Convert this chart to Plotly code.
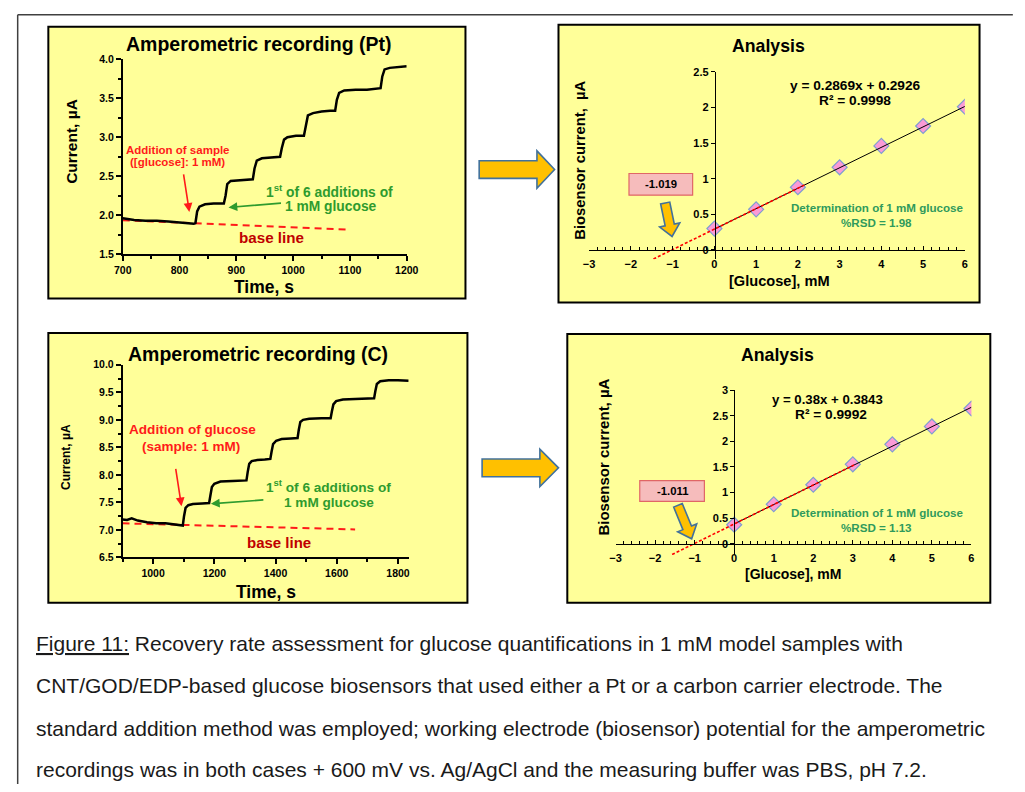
import plotly.graph_objects as go

# ---------------- data ----------------
# Amperometric recording (Pt)
pt_time = [700, 720, 740, 760, 780, 800, 815, 825, 828, 831, 835, 845, 860, 878, 881, 884, 890, 905, 920, 929,
           932, 936, 945, 960, 977, 980, 984, 990, 1005, 1019, 1022, 1026, 1035, 1050, 1065, 1074, 1077, 1081,
           1090, 1110, 1130, 1154, 1157, 1161, 1170, 1185, 1200]
pt_current = [1.96, 1.94, 1.93, 1.93, 1.92, 1.91, 1.90, 1.89, 1.90, 2.05, 2.11, 2.14, 2.15, 2.15, 2.25, 2.40,
              2.44, 2.45, 2.46, 2.46, 2.60, 2.70, 2.73, 2.74, 2.75, 2.86, 2.97, 3.00, 3.02, 3.02, 3.15, 3.28,
              3.31, 3.33, 3.34, 3.34, 3.48, 3.57, 3.60, 3.61, 3.61, 3.63, 3.78, 3.87, 3.89, 3.90, 3.91]
pt_base_time = [700, 1095]
pt_base_current = [1.935, 1.815]

# Amperometric recording (C)
c_time = [900, 915, 930, 950, 980, 1010, 1040, 1070, 1090, 1097, 1101, 1106, 1115, 1130, 1160, 1183, 1187, 1192,
          1200, 1220, 1260, 1305, 1309, 1314, 1322, 1340, 1365, 1383, 1387, 1392, 1402, 1420, 1450, 1472, 1476,
          1481, 1490, 1510, 1550, 1580, 1584, 1589, 1598, 1620, 1660, 1700, 1722, 1726, 1731, 1742, 1770, 1800,
          1835]
c_current = [7.19, 7.18, 7.21, 7.17, 7.14, 7.12, 7.12, 7.10, 7.09, 7.08, 7.25, 7.40, 7.45, 7.47, 7.48, 7.49, 7.62,
             7.78, 7.84, 7.88, 7.89, 7.90, 8.05, 8.20, 8.25, 8.27, 8.28, 8.29, 8.42, 8.56, 8.62, 8.65, 8.66, 8.67,
             8.82, 8.96, 9.00, 9.02, 9.03, 9.03, 9.15, 9.28, 9.34, 9.37, 9.38, 9.38, 9.39, 9.52, 9.65, 9.70, 9.72,
             9.72, 9.71]
c_base_time = [900, 1660]
c_base_current = [7.12, 7.01]

# Analysis (standard addition)
conc = [0, 1, 2, 3, 4, 5, 6]
pt_bio = [0.30, 0.57, 0.88, 1.16, 1.46, 1.74, 2.01]
c_bio = [0.37, 0.77, 1.15, 1.55, 1.94, 2.29, 2.64]
pt_slope, pt_intercept, pt_r2, pt_xint, pt_rsd = 0.2869, 0.2926, 0.9998, -1.019, 1.98
c_slope, c_intercept, c_r2, c_xint, c_rsd = 0.38, 0.3843, 0.9992, -1.011, 1.13
pt_extrap_x = [-1.46, 2.2]
c_extrap_x = [-1.57, 3.03]

pt_rec_xticks = [700, 800, 900, 1000, 1100, 1200]
pt_rec_yticks = [1.5, 2.0, 2.5, 3.0, 3.5, 4.0]
c_rec_xticks = [1000, 1200, 1400, 1600, 1800]
c_rec_yticks = [6.5, 7.0, 7.5, 8.0, 8.5, 9.0, 9.5, 10.0]
an_xticks = [-3, -2, -1, 0, 1, 2, 3, 4, 5, 6]
pt_an_yticks = [0, 0.5, 1, 1.5, 2, 2.5]
pt_an_ylabels = ["0", "0.5", "1", "1.5", "2", "2.5"]
c_an_yticks = [0, 0.5, 1, 1.5, 2, 2.5, 3]
c_an_ylabels = ["0", "0.5", "1", "1.5", "2", "2.5", "3"]

caption = [
    "<u>Figure 11:</u> Recovery rate assessment for glucose quantifications in 1 mM model samples with",
    "CNT/GOD/EDP-based glucose biosensors that used either a Pt or a carbon carrier electrode. The",
    "standard addition method was employed; working electrode (biosensor) potential for the amperometric",
    "recordings was in both cases + 600 mV vs. Ag/AgCl and the measuring buffer was PBS, pH 7.2.",
]

# ---------------- layout helpers ----------------
# the page keeps the browser's default 8px body margin, so the figure is drawn 8px in from the corner
PAGE_W, PAGE_H, OFF = 1025, 792, 8
W, H = PAGE_W - 2 * OFF, PAGE_H - 2 * OFF
FONT = "Liberation Sans"
YELLOW = "#ffff99"
RED = "#ff1a1a"
DARKRED = "#c00000"
GREEN = "#2e9b2e"
TEAL = "#2f9a5c"


def X(p):
    return (p - OFF) / W


def Y(p):
    return 1 - (p - OFF) / H


fig = go.Figure()
shapes = []
annotations = []


def ann(text, x, y, size, color="black", angle=0, xanchor="center", yanchor="middle", bold=True):
    annotations.append(dict(
        text=f"<b>{text}</b>" if bold else text, x=X(x), y=Y(y), xref="paper", yref="paper",
        showarrow=False, textangle=angle, xanchor=xanchor, yanchor=yanchor,
        font=dict(family=FONT, size=size, color=color)))


def line_arrow(tail, tip, color, width=1.6):
    annotations.append(dict(
        text="", x=X(tip[0]), y=Y(tip[1]), xref="paper", yref="paper",
        ax=tail[0] - tip[0], ay=tail[1] - tip[1], axref="pixel", ayref="pixel",
        showarrow=True, arrowhead=2, arrowsize=1.1, arrowwidth=width, arrowcolor=color, standoff=0))


def rect(x0, y0, x1, y1, fill, line_color="black", lw=2, layer="below"):
    shapes.append(dict(type="rect", xref="paper", yref="paper", x0=X(x0), x1=X(x1), y0=Y(y1), y1=Y(y0),
                       fillcolor=fill, line=dict(color=line_color, width=lw), layer=layer))


def block_arrow(tail, tip, sw, hw, hl, fill="#ffc000", outline="#41719c"):
    dx, dy = tip[0] - tail[0], tip[1] - tail[1]
    L = (dx * dx + dy * dy) ** 0.5
    ux, uy = dx / L, dy / L
    nx, ny = -uy, ux
    bx, by = tip[0] - ux * hl, tip[1] - uy * hl
    pts = [
        (tail[0] + nx * sw / 2, tail[1] + ny * sw / 2),
        (bx + nx * sw / 2, by + ny * sw / 2),
        (bx + nx * hw / 2, by + ny * hw / 2),
        tip,
        (bx - nx * hw / 2, by - ny * hw / 2),
        (bx - nx * sw / 2, by - ny * sw / 2),
        (tail[0] - nx * sw / 2, tail[1] - ny * sw / 2),
    ]
    path = "M" + " L".join(f"{X(p[0]):.5f},{Y(p[1]):.5f}" for p in pts) + " Z"
    shapes.append(dict(type="path", xref="paper", yref="paper", path=path, fillcolor=fill,
                       line=dict(color=outline, width=1.6), layer="above"))


# page frame
shapes.append(dict(type="line", xref="paper", yref="paper", x0=X(8.7), x1=X(1025), y0=Y(8.7), y1=Y(8.7),
                   line=dict(color="#404040", width=1.5)))
shapes.append(dict(type="line", xref="paper", yref="paper", x0=X(8.7), x1=X(8.7), y0=Y(8.7), y1=Y(792),
                   line=dict(color="#404040", width=1.5)))

# panels
rect(40, 21, 466, 297, YELLOW)
rect(561, 19, 991, 301, YELLOW)
rect(40, 332, 468, 606, YELLOW)
rect(570, 333, 1002, 606, YELLOW)

# big arrows between panels
block_arrow((480, 166), (557, 166), 18, 38, 18)
block_arrow((483, 469), (561, 469), 18, 38, 19)

tickfont_rec = dict(family=FONT, size=10.5, color="black", weight="bold")
tickfont_an = dict(family=FONT, size=11, color="black", weight="bold")
axis_common = dict(showgrid=False, zeroline=False, showline=True, linecolor="black", linewidth=1.5,
                   tickcolor="black", tickwidth=1.5)
an_axis = dict(showgrid=False, zeroline=False, showline=True, linecolor="black", linewidth=1.2,
               tickcolor="black", tickwidth=1)

# ---------------- panel 1: Pt recording ----------------
fig.add_trace(go.Scatter(x=pt_base_time, y=pt_base_current, mode="lines", xaxis="x", yaxis="y",
                         line=dict(color=RED, width=2, dash="7px,5px"), showlegend=False, hoverinfo="skip"))
fig.add_trace(go.Scatter(x=pt_time, y=pt_current, mode="lines", xaxis="x", yaxis="y",
                         line=dict(color="black", width=2.5), showlegend=False))

# ---------------- panel 3: C recording ----------------
fig.add_trace(go.Scatter(x=c_base_time, y=c_base_current, mode="lines", xaxis="x3", yaxis="y3",
                         line=dict(color=RED, width=2, dash="7px,5px"), showlegend=False, hoverinfo="skip"))
fig.add_trace(go.Scatter(x=c_time, y=c_current, mode="lines", xaxis="x3", yaxis="y3",
                         line=dict(color="black", width=2.5), showlegend=False))

# ---------------- panel 2 / 4: analysis ----------------
for xa, ya, yv, slope, icpt, ext in [("x2", "y2", pt_bio, pt_slope, pt_intercept, pt_extrap_x),
                                      ("x4", "y4", c_bio, c_slope, c_intercept, c_extrap_x)]:
    fig.add_trace(go.Scatter(x=conc, y=yv, mode="markers", xaxis=xa, yaxis=ya, showlegend=False,
                             marker=dict(symbol="diamond", size=11.5, color="#fb9ad6",
                                         line=dict(color="#7f9fd0", width=1.2))))
    fit_x = [conc[0], conc[-1]]
    fig.add_trace(go.Scatter(x=fit_x, y=[slope * v + icpt for v in fit_x], mode="lines", xaxis=xa, yaxis=ya,
                             line=dict(color="black", width=1), showlegend=False, hoverinfo="skip"))
    fig.add_trace(go.Scatter(x=ext, y=[slope * v + icpt for v in ext], mode="lines", xaxis=xa, yaxis=ya,
                             line=dict(color="red", width=1.6, dash="3px,2px"), showlegend=False,
                             hoverinfo="skip"))

# axes
fig.update_layout(
    xaxis=dict(domain=[X(116), X(406)], range=[700, 1200], anchor="y", tickvals=pt_rec_xticks,
               ticks="outside", ticklen=5, tickfont=tickfont_rec,
               minor=dict(dtick=50, tick0=700, ticks="outside", ticklen=3, tickwidth=1.5, tickcolor="black"),
               **axis_common),
    yaxis=dict(domain=[Y(252), Y(54)], range=[1.5, 4.0], anchor="x", tickvals=pt_rec_yticks, tickformat=".1f",
               ticks="outside", ticklen=5, tickfont=tickfont_rec,
               minor=dict(dtick=0.25, tick0=1.5, ticks="outside", ticklen=3, tickwidth=1.5, tickcolor="black"),
               **axis_common),
    xaxis3=dict(domain=[X(115.75), X(408)], range=[900, 1835], anchor="y3", tickvals=c_rec_xticks,
                ticks="outside", ticklen=5, tickfont=tickfont_rec,
                minor=dict(dtick=100, tick0=900, ticks="outside", ticklen=3, tickwidth=1.5, tickcolor="black"),
                **axis_common),
    yaxis3=dict(domain=[Y(560), Y(364.3)], range=[6.5, 10.0], anchor="x3", tickvals=c_rec_yticks,
                tickformat=".1f", ticks="outside", ticklen=5, tickfont=tickfont_rec,
                minor=dict(dtick=0.25, tick0=6.5, ticks="outside", ticklen=3, tickwidth=1.5, tickcolor="black"),
                **axis_common),
    xaxis2=dict(domain=[X(592.3), X(976)], range=[-3, 6], anchor="free", position=Y(247.7),
                tickvals=an_xticks, ticks="inside", ticklen=4, tickfont=tickfont_an, ticklabelstandoff=4,
                minor=dict(dtick=0.2, tick0=-3, ticks="inside", ticklen=2.5, tickwidth=1, tickcolor="black"),
                **an_axis),
    yaxis2=dict(domain=[Y(257.1), Y(66.7)], range=[-0.13, 2.5], anchor="free", position=X(720.7),
                tickvals=pt_an_yticks, ticktext=pt_an_ylabels, ticks="outside", ticklen=4, tickfont=tickfont_an,
                **an_axis),
    xaxis4=dict(domain=[X(619.3), X(982.7)], range=[-3, 6], anchor="free", position=Y(546),
                tickvals=an_xticks, ticks="inside", ticklen=4, tickfont=tickfont_an, ticklabelstandoff=4,
                minor=dict(dtick=0.2, tick0=-3, ticks="inside", ticklen=2.5, tickwidth=1, tickcolor="black"),
                **an_axis),
    yaxis4=dict(domain=[Y(557.4), Y(390)], range=[-0.22, 3], anchor="free", position=X(740.7),
                tickvals=c_an_yticks, ticktext=c_an_ylabels, ticks="outside", ticklen=4, tickfont=tickfont_an,
                **an_axis),
)

# ---------------- texts ----------------
# panel 1
ann("Amperometric recording (Pt)", 255, 38, 19.5)
ann("Current, µA", 63, 137, 15.5, angle=-90)
ann("Time, s", 260, 285, 17.5)
ann("Addition of sample", 172, 146, 11.5, RED)
ann("([glucose]: 1 mM)", 172, 158, 11.5, RED)
line_arrow((178, 170), (184, 209), RED)
ann("1<sup>st</sup> of 6 additions of", 327, 188, 13.8, GREEN)
ann("1 mM glucose", 329, 204, 13.8, GREEN)
line_arrow((278, 200), (224, 204.5), GREEN)
ann("base line", 268, 235, 15.2, DARKRED)

# panel 3
ann("Amperometric recording (C)", 254, 353, 19.5)
ann("Current, µA", 58, 458, 12, angle=-90)
ann("Time, s", 262, 595, 17.5)
ann("Addition of glucose", 187, 430, 13.6, RED)
ann("(sample: 1 mM)", 186, 447, 13.5, RED)
line_arrow((170, 469), (176, 508), RED)
ann("1<sup>st</sup> of 6 additions of", 326, 487, 13.6, GREEN)
ann("1 mM glucose", 327, 504, 13.6, GREEN)
line_arrow((260, 501.5), (206, 505.5), GREEN)
ann("base line", 276, 545, 15, DARKRED)

# panel 2
ann("Analysis", 775, 41, 17.7)
ann("Biosensor current,  µA", 583, 157, 14.8, angle=-90)
ann("[Glucose], mM", 787, 279, 14.6)
ann(f"y = {pt_slope}x + {pt_intercept}", 864, 81, 13.7)
ann(f"R² = {pt_r2}", 864, 95.5, 13.7)
ann("Determination of 1 mM glucose", 887, 205, 11.6, TEAL)
ann(f"%RSD = {pt_rsd}", 886, 219.5, 11.6, TEAL)
rect(633, 170, 698, 192, "#f6bcbc", "#e06666", 1.2, layer="above")
ann(f"{pt_xint}", 665.5, 181, 11.3)
block_arrow((670, 200), (677, 234), 9.5, 21, 12)

# panel 4
ann("Analysis", 785, 354, 17.7)
ann("Biosensor current, µA", 607, 458, 15, angle=-90)
ann("[Glucose], mM", 800, 577, 14)
ann(f"y = {c_slope}x + {c_intercept}", 836, 400, 13.2)
ann(f"R² = {c_r2}", 839, 415, 13.7)
ann("Determination of 1 mM glucose", 887, 514.5, 11.6, TEAL)
ann(f"%RSD = {c_rsd}", 886, 529.5, 11.6, TEAL)
rect(644, 482, 710, 503, "#f6bcbc", "#e06666", 1.2, layer="above")
ann(f"{c_xint}", 677, 492.5, 11.3)
block_arrow((683, 507), (697, 541), 9.5, 21, 12)

# caption
for line, yy in zip(caption, [647, 690, 734, 775]):
    ann(line, 25, yy, 21, "#1a1a1a", xanchor="left", bold=False)

fig.update_layout(
    width=W, height=H, autosize=False, margin=dict(l=0, r=0, t=0, b=0, pad=0),
    paper_bgcolor="white", plot_bgcolor="rgba(0,0,0,0)",
    shapes=shapes, annotations=annotations, showlegend=False,
    font=dict(family=FONT, color="black"),
)

fig.write_html("out.html", config={"displayModeBar": False})
